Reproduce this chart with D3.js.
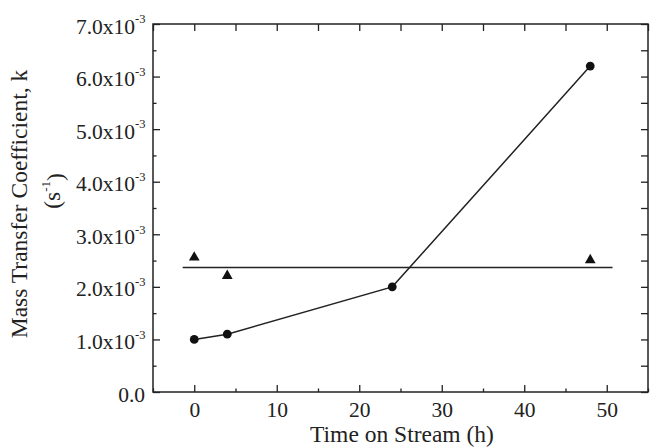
<!DOCTYPE html>
<html><head><meta charset="utf-8">
<script src="https://d3js.org/d3.v7.min.js"></script>
<style>body{margin:0;background:#fff}svg{display:block}text{font-family:"Liberation Serif","Times New Roman",serif;fill:#222}</style>
</head><body>
<svg id="c" width="650" height="447"></svg>
<script>
const circleX = [0, 4, 24, 48];
const circleY = [1.0e-3, 1.1e-3, 2.0e-3, 6.2e-3];
const triX = [0, 4, 48];
const triY = [2.56e-3, 2.21e-3, 2.51e-3];
const meanLineX = [-1.4, 50.7];
const meanLineY = [2.37e-3, 2.37e-3];
const xTicks = [0, 10, 20, 30, 40, 50];
const yTicks = [0, 1e-3, 2e-3, 3e-3, 4e-3, 5e-3, 6e-3, 7e-3];
const yTickLabels = ["0.0", "1.0x10", "2.0x10", "3.0x10", "4.0x10", "5.0x10", "6.0x10", "7.0x10"];
const xTitle = "Time on Stream (h)";
const yTitle = "Mass Transfer Coefficient, k";

const svg = d3.select("#c");
const L = 153, R = 648, T = 24, B = 392;
const x = d3.scaleLinear().domain([-5, 55]).range([L, R]);
const y = d3.scaleLinear().domain([0, 7e-3]).range([B, T]);
const col = "#222";

svg.append("rect").attr("x", L).attr("y", T).attr("width", R - L).attr("height", B - T)
  .attr("fill", "none").attr("stroke", col).attr("stroke-width", 1.5);

const xMinor = d3.range(-5, 56, 5).filter(v => v % 10 !== 0);
const yMinor = d3.range(0.5e-3, 7e-3, 1e-3);

const gb = svg.append("g").attr("transform", `translate(0,${B})`)
  .call(d3.axisBottom(x).tickValues(xTicks).tickSize(-7).tickPadding(10).tickFormat(d3.format("d")));
const gbm = svg.append("g").attr("transform", `translate(0,${B})`)
  .call(d3.axisBottom(x).tickValues(xMinor).tickSize(-3.5).tickFormat(""));
const gt = svg.append("g").attr("transform", `translate(0,${T})`)
  .call(d3.axisTop(x).tickValues(xTicks.concat(xMinor)).tickSize(-7).tickFormat(""));
const gl = svg.append("g").attr("transform", `translate(${L},0)`)
  .call(d3.axisLeft(y).tickValues(yTicks).tickSize(-7).tickPadding(8).tickFormat((d, i) => yTickLabels[i]));
const glm = svg.append("g").attr("transform", `translate(${L},0)`)
  .call(d3.axisLeft(y).tickValues(yMinor).tickSize(-3.5).tickFormat(""));
const gr = svg.append("g").attr("transform", `translate(${R},0)`)
  .call(d3.axisRight(y).tickValues(yTicks.concat(yMinor)).tickSize(-7).tickFormat(""));

[gb, gbm, gt, gl, glm, gr].forEach(g => {
  g.select(".domain").remove();
  g.selectAll("line").attr("stroke", col).attr("stroke-width", 1.3);
  g.selectAll("text").attr("font-family", "Liberation Serif").attr("font-size", 21.5).attr("fill", col);
});
gl.selectAll(".tick text").attr("dy", "0.42em").each(function(d) {
  if (d !== 0) {
    d3.select(this).attr("x", -18);
    d3.select(this.parentNode).append("text").attr("x", -18).attr("y", 0).attr("dy", "-0.1em")
      .attr("text-anchor", "start").attr("font-family", "Liberation Serif")
      .attr("font-size", 12.5).attr("fill", col).text("-3");
  }
});

svg.append("line").attr("x1", x(meanLineX[0])).attr("x2", x(meanLineX[1]))
  .attr("y1", y(meanLineY[0])).attr("y2", y(meanLineY[1]))
  .attr("stroke", col).attr("stroke-width", 1.5);

const pts = circleX.map((v, i) => [v, circleY[i]]);
svg.append("path").datum(pts)
  .attr("d", d3.line().x(d => x(d[0])).y(d => y(d[1])))
  .attr("fill", "none").attr("stroke", col).attr("stroke-width", 1.5);
svg.selectAll(".pc").data(pts).enter().append("circle")
  .attr("cx", d => x(d[0])).attr("cy", d => y(d[1])).attr("r", 4.4).attr("fill", "#111");

const tri = d3.symbol().type(d3.symbolTriangle).size(50);
svg.selectAll(".pt").data(triX.map((v, i) => [v, triY[i]])).enter().append("path")
  .attr("d", tri).attr("transform", d => `translate(${x(d[0])},${y(d[1])})`).attr("fill", "#111");

svg.append("text").attr("x", 402).attr("y", 442).attr("text-anchor", "middle")
  .attr("font-size", 23.5).text(xTitle);
svg.append("text").attr("transform", `translate(27,204) rotate(-90)`)
  .attr("text-anchor", "middle").attr("font-size", 23.5).text(yTitle);
const yt2 = svg.append("text").attr("transform", `translate(60,191) rotate(-90)`)
  .attr("text-anchor", "middle").attr("font-size", 23.5);
yt2.append("tspan").text("(s");
yt2.append("tspan").attr("dy", "-0.75em").attr("font-size", 13).text("-1");
yt2.append("tspan").attr("dy", "0.55em").text(")");
</script>
</body></html>
